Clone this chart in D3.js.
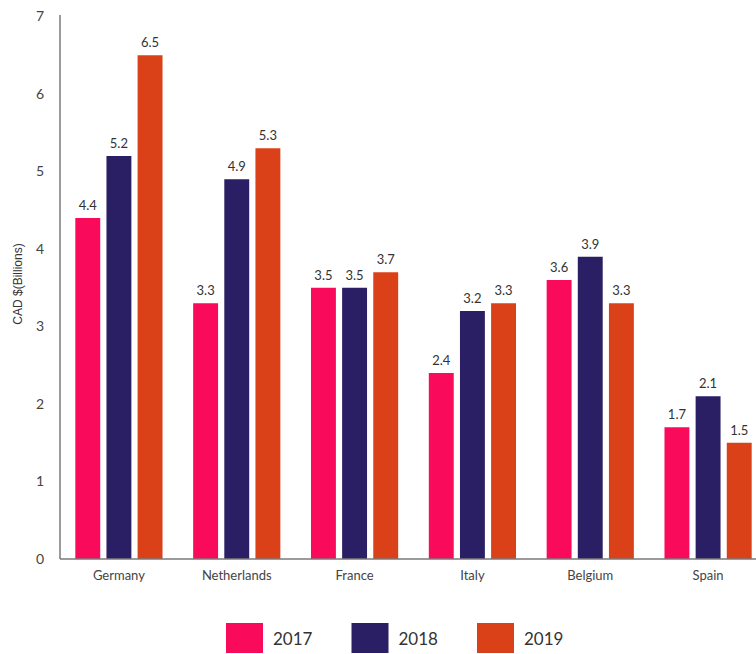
<!DOCTYPE html>
<html>
<head>
<meta charset="utf-8">
<script src="https://cdn.jsdelivr.net/npm/d3@7"></script>
<style>
  html, body { margin: 0; padding: 0; background: #fff; }
  svg { display: block; }
</style>
</head>
<body>
<svg id="chart" width="756" height="654"></svg>
<script>
// Export values by destination country, CAD billions
const countries = ["Germany", "Netherlands", "France", "Italy", "Belgium", "Spain"];
const years = ["2017", "2018", "2019"];
const values2017 = [4.4, 3.3, 3.5, 2.4, 3.6, 1.7];
const values2018 = [5.2, 4.9, 3.5, 3.2, 3.9, 2.1];
const values2019 = [6.5, 5.3, 3.7, 3.3, 3.3, 1.5];
const yTicks = [0, 1, 2, 3, 4, 5, 6, 7];
const colors = ["#FA0A5A", "#2A1F64", "#DA4119"];

const seriesByYear = [values2017, values2018, values2019];
const rows = countries.map((c, i) => ({
  country: c,
  vals: years.map((y, k) => ({ year: y, value: seriesByYear[k][i] }))
}));

const svg = d3.select("#chart");
const fontMain = "Lato, 'Open Sans', sans-serif";

const x0 = d3.scaleBand()
  .domain(countries)
  .range([60, 767])
  .paddingInner(0.26)
  .paddingOuter(0.13);

const x1 = d3.scaleBand()
  .domain(years)
  .range([0, x0.bandwidth()])
  .paddingInner(0.2);

const y = d3.scaleLinear().domain([0, 7]).range([559, 16.5]);

const color = d3.scaleOrdinal().domain(years).range(colors);

// Bars
const groups = svg.append("g").selectAll("g")
  .data(rows)
  .join("g")
  .attr("transform", d => `translate(${x0(d.country)},0)`);

groups.selectAll("rect")
  .data(d => d.vals)
  .join("rect")
  .attr("x", d => x1(d.year))
  .attr("y", d => y(d.value))
  .attr("width", x1.bandwidth())
  .attr("height", d => y(0) - y(d.value))
  .attr("fill", d => color(d.year));

// Value labels
groups.selectAll("text")
  .data(d => d.vals)
  .join("text")
  .attr("x", d => x1(d.year) + x1.bandwidth() / 2)
  .attr("y", d => y(d.value) - 8)
  .attr("text-anchor", "middle")
  .attr("font-family", fontMain)
  .attr("font-size", 13)
  .attr("fill", "#333")
  .text(d => d.value.toFixed(1));

// Y axis
const yAxis = svg.append("g")
  .attr("transform", "translate(60,0)")
  .call(d3.axisLeft(y).tickValues(yTicks).tickSize(0).tickPadding(16).tickFormat(d3.format("d")));
yAxis.select(".domain").attr("stroke", "#7a7a7a").attr("stroke-width", 1.5)
  .attr("d", `M0,${y(7) - 1.5}V${y(0)}`);
yAxis.selectAll("text")
  .attr("font-family", fontMain)
  .attr("font-size", 14)
  .attr("fill", "#444");

// X axis
const xAxis = svg.append("g")
  .attr("transform", `translate(0,${y(0)})`)
  .call(d3.axisBottom(x0).tickSize(0).tickPadding(12));
xAxis.select(".domain").attr("stroke", "#7a7a7a").attr("stroke-width", 1.5)
  .attr("d", "M60,0H756");
xAxis.selectAll("text")
  .attr("font-family", fontMain)
  .attr("font-size", 13)
  .attr("fill", "#444");

// Y axis title
svg.append("text")
  .attr("transform", "translate(22,284) rotate(-90)")
  .attr("text-anchor", "middle")
  .attr("font-family", "'Liberation Sans', Arial, sans-serif")
  .attr("font-size", 12)
  .attr("fill", "#333")
  .text("CAD $(Billions)");

// Legend
const legendX = d3.scalePoint().domain(years).range([226, 477]);
const legend = svg.append("g").selectAll("g")
  .data(years)
  .join("g")
  .attr("transform", d => `translate(${legendX(d)},623)`);
legend.append("rect")
  .attr("width", 37)
  .attr("height", 30)
  .attr("fill", d => color(d));
legend.append("text")
  .attr("x", 47)
  .attr("y", 16)
  .attr("dy", "0.35em")
  .attr("font-family", fontMain)
  .attr("font-size", 17)
  .attr("fill", "#333")
  .text(d => d);
</script>
</body>
</html>
